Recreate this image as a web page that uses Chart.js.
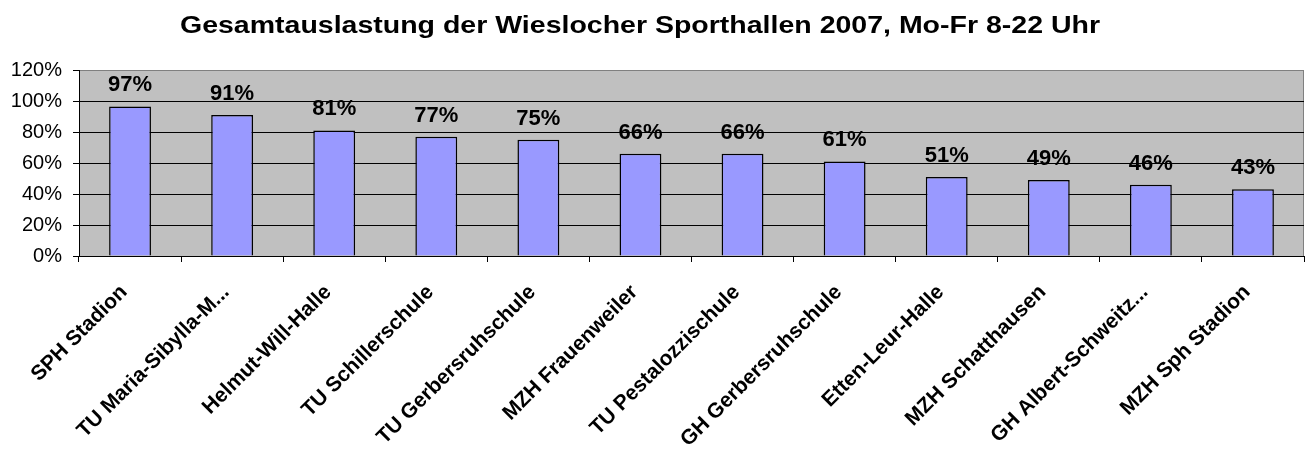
<!DOCTYPE html>
<html><head><meta charset="utf-8">
<script src="https://cdn.jsdelivr.net/npm/chart.js@4.4.1/dist/chart.umd.min.js"></script>
<style>html,body{margin:0;padding:0;background:#fff;}#wrap{width:1305px;height:462px;}</style>
</head><body><div id="wrap"><canvas id="c" width="1305" height="462"></canvas></div>
<script>
const chartTitle = 'Gesamtauslastung der Wieslocher Sporthallen 2007, Mo-Fr 8-22 Uhr';
const categories = ['SPH Stadion','TU Maria-Sibylla-M...','Helmut-Will-Halle','TU Schillerschule','TU Gerbersruhschule','MZH Frauenweiler','TU Pestalozzischule','GH Gerbersruhschule','Etten-Leur-Halle','MZH Schatthausen','GH Albert-Schweitz...','MZH Sph Stadion'];
const values = [96.5, 91, 81, 77, 75, 66, 66, 61, 51, 49, 46, 43];
const yTicks = [0, 20, 40, 60, 80, 100, 120];

const FONT = '"Liberation Sans", Arial, sans-serif';

const bgPlugin = {
  id: 'bg',
  beforeDraw(chart) {
    const {ctx, chartArea: a} = chart;
    ctx.save();
    ctx.fillStyle = '#C0C0C0';
    ctx.fillRect(a.left, a.top, a.right - a.left, a.bottom - a.top);
    ctx.strokeStyle = '#808080';
    ctx.lineWidth = 1;
    ctx.beginPath();
    ctx.moveTo(a.left, a.top + 0.5); ctx.lineTo(a.right - 0.5, a.top + 0.5); ctx.lineTo(a.right - 0.5, a.bottom);
    ctx.stroke();
    ctx.restore();
  },
  afterDraw(chart) {
    const {ctx} = chart;
    ctx.save();
    ctx.font = 'bold 24px ' + FONT;
    ctx.fillStyle = '#000';
    ctx.textAlign = 'center';
    ctx.textBaseline = 'alphabetic';
    const w = ctx.measureText(chartTitle).width;
    const sx = 920 / w;
    ctx.translate(640, 33);
    ctx.scale(sx, 1);
    ctx.fillText(chartTitle, 0, 0);
    ctx.restore();
  }
};
const labelPlugin = {
  id: 'vlabels',
  afterDatasetsDraw(chart) {
    const {ctx} = chart;
    const meta = chart.getDatasetMeta(0);
    ctx.save();
    ctx.font = 'bold 22px ' + FONT;
    ctx.fillStyle = '#000';
    ctx.textAlign = 'center';
    ctx.textBaseline = 'alphabetic';
    meta.data.forEach((bar, i) => {
      ctx.fillText(Math.round(values[i]) + '%', bar.x, bar.y - 15);
    });
    ctx.restore();
  }
};

new Chart(document.getElementById('c'), {
  type: 'bar',
  data: {
    labels: categories,
    datasets: [{
      data: values,
      backgroundColor: '#9999FF',
      borderColor: '#000',
      borderWidth: 1.5,
      barPercentage: 0.41,
      categoryPercentage: 1.0
    }]
  },
  options: {
    responsive: false,
    animation: false,
    devicePixelRatio: 1,
    layout: {padding: {top: 70, right: 1, left: 0, bottom: 0}},
    plugins: {
      legend: {display: false},
      tooltip: {enabled: false},
      title: {display: false}
    },
    scales: {
      x: {
        offset: true,
        grid: {offset: true, drawOnChartArea: false, color: '#000', tickLength: 6, tickColor: '#000'},
        border: {color: '#000', width: 1},
        ticks: {
          color: '#000',
          font: {family: FONT, size: 21, weight: 'bold'},
          maxRotation: 45, minRotation: 45, autoSkip: false, padding: 18, labelOffset: -6
        },
        afterFit(s) { s.height = 206; }
      },
      y: {
        min: 0, max: 120,
        afterBuildTicks(s) { s.ticks = yTicks.map(v => ({value: v})); },
        grid: {
          color: ctx => (ctx.tick && ctx.tick.value === 120) ? '#808080' : '#000',
          tickLength: 6, tickColor: '#000'
        },
        border: {color: '#000', width: 1},
        ticks: {
          color: '#000',
          font: {family: FONT, size: 20},
          padding: 11,
          callback: v => v + '%'
        },
        afterFit(s) { s.width = 79; }
      }
    }
  },
  plugins: [bgPlugin, labelPlugin]
});
</script></body></html>
